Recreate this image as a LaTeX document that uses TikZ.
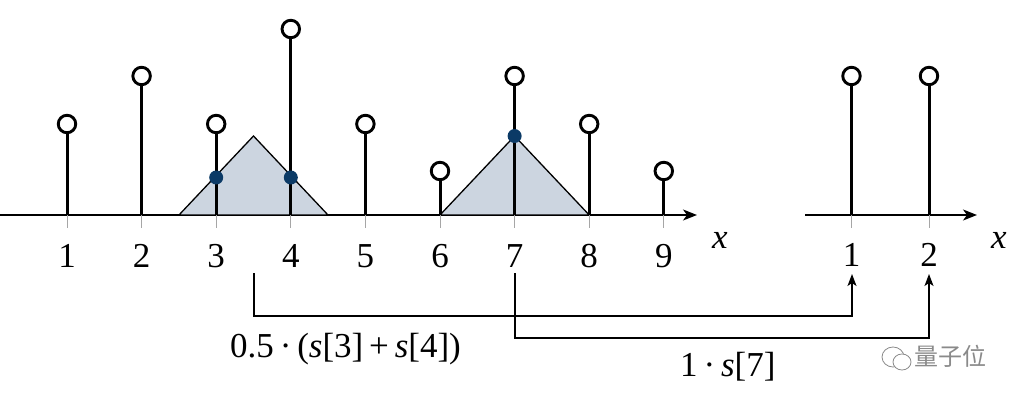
\documentclass[tikz,border=0pt]{standalone}
\usepackage{fontspec}
\setmainfont{Liberation Serif}
\newfontfamily\cjkfont{Noto Sans CJK SC}
\usetikzlibrary{arrows.meta}
\definecolor{trifill}{HTML}{CCD5E0}
\definecolor{dotblue}{HTML}{0B3A66}
\definecolor{wmgrey}{HTML}{8A8A8A}
\begin{document}
\begin{tikzpicture}[x=1pt,y=-1pt,
  axisline/.style={line width=1.5pt,-{Stealth[length=14pt,width=11pt,inset=4pt]}},
  tickline/.style={line width=0.8pt,black!35},
  stemline/.style={line width=3pt},
  circ/.style={circle,draw,line width=2.9pt,fill=white,minimum size=17.5pt,inner sep=0pt},
  tri/.style={fill=trifill,draw=black,line width=1.3pt,line join=miter},
  sdot/.style={circle,fill=dotblue,minimum size=14pt,inner sep=0pt},
  lab/.style={font=\fontsize{35}{42}\selectfont,inner sep=0pt},
  conn/.style={line width=1.4pt},
  connarrow/.style={line width=1.4pt,-{Stealth[length=12pt,width=9pt,inset=3pt]}},
  wm/.style={wmgrey}
]
\useasboundingbox (0,0) rectangle (1021,401);

% left axis
\coordinate (la0) at (0,215);
\coordinate (la1) at (697,215);
\draw[axisline] (la0) -- (la1);
\node[lab] (xl) at (720,240) {\textit{x}};

% right axis
\coordinate (ra0) at (805,215);
\coordinate (ra1) at (977,215);
\draw[axisline] (ra0) -- (ra1);
\node[lab] (xr) at (999,240) {\textit{x}};

% triangles
\coordinate (t1a) at (179,215);
\coordinate (t1b) at (253.5,136);
\coordinate (t1c) at (328,215);
\draw[tri] (t1a) -- (t1b) -- (t1c) -- cycle;
\coordinate (t2a) at (440,215);
\coordinate (t2b) at (514.6,136);
\coordinate (t2c) at (589.2,215);
\draw[tri] (t2a) -- (t2b) -- (t2c) -- cycle;

% left stems
\foreach \i/\yy in {1/124,2/76,3/124,4/29,5/124,6/171,7/76,8/124,9/171}{
  \pgfmathsetmacro{\xx}{67+74.6*(\i-1)}
  \coordinate (b\i) at (\xx,215);
  \coordinate (k\i) at (\xx,228);
  \draw[tickline] (b\i) -- (k\i);
  \node[circ] (c\i) at (\xx,\yy) {};
  \draw[stemline] (b\i) -- (c\i.south);
  \node[lab] (n\i) at (\xx,256) {\i};
}

% right stems
\foreach \i/\xx in {1/851.5,2/929}{
  \coordinate (rb\i) at (\xx,215);
  \coordinate (rk\i) at (\xx,228);
  \draw[tickline] (rb\i) -- (rk\i);
  \node[circ] (rc\i) at (\xx,76) {};
  \draw[stemline] (rb\i) -- (rc\i.south);
  \node[lab] (rn\i) at (\xx,255) {\i};
}

% dots
\node[sdot] (d3) at (216.2,177.5) {};
\node[sdot] (d4) at (290.8,177.5) {};
\node[sdot] (d7) at (514.6,136) {};

% connectors
\coordinate (s1) at (254,273);
\coordinate (e1) at (852,274);
\coordinate (s2) at (515,273);
\coordinate (e2) at (929,274);
\draw[conn] (s1) -- (254,316) -- (852,316);
\draw[connarrow] (852,317) -- (e1);
\draw[conn] (s2) -- (515,338) -- (929,338);
\draw[connarrow] (929,339) -- (e2);

% labels
\node[lab,anchor=base west] (f1) at (230,357) {0.5\,·\,(\textit{s}[3]\,+\,\textit{s}[4])};
\node[lab,anchor=base west] (f2) at (680,376) {1\,·\,\textit{s}[7]};

% watermark
\draw[wm,line width=0.8pt] (893,357) ellipse (11pt and 10pt);
\draw[wm,line width=0.8pt,fill=white] (902,362) ellipse (9pt and 8pt);
\node[wm,font=\cjkfont\fontsize{24}{28}\selectfont,inner sep=0pt] (wmt) at (950,356) {量子位};
\end{tikzpicture}
\end{document}
